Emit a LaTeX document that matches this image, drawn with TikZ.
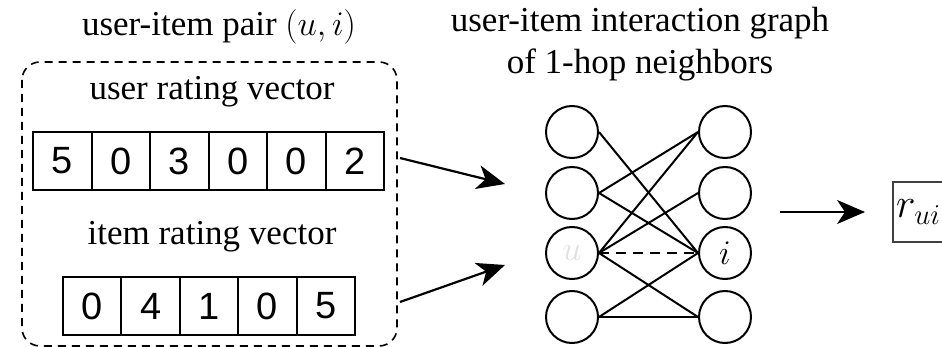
\documentclass[tikz,border=0pt]{standalone}
\usepackage{fontspec}
\setmainfont{Liberation Serif}
\newfontfamily\cellfont{Liberation Sans}
\usetikzlibrary{arrows.meta}

\tikzset{
  cell/.style={draw, line width=1pt, minimum width=29.25pt, minimum height=29pt,
    inner sep=0pt, font=\cellfont\fontsize{19}{22}\selectfont},
  vertex/.style={draw, circle, line width=1pt, minimum size=26pt, inner sep=0pt,
    font=\fontsize{19}{22}\selectfont},
  caption/.style={font=\fontsize{17.5}{21}\selectfont, align=center},
  edge/.style={line width=1pt},
  feed/.style={line width=1.1pt, -{Stealth[length=14pt,width=12pt,inset=4pt]}}
}

\begin{document}
\begin{tikzpicture}[x=0.5pt,y=-0.5pt]
\clip (0,0) rectangle (942,347);

% ====================
% Input: the rating vectors of a user-item pair
\node[caption] (pairtitle) at (219,27) {user-item pair $(u,i)$};
\draw[dashed, dash pattern=on 4pt off 3pt, line width=0.8pt, rounded corners=9pt]
  (22,62) rectangle (397,346);
\node[caption] (usertitle) at (212,92) {user rating vector};
\foreach \val [count=\k] in {5,0,3,0,0,2}
  \node[cell] (ur\k) at ({33+58.5*(\k-0.5)},161) {\val};
\node[caption] (itemtitle) at (212,237) {item rating vector};
\foreach \val [count=\k] in {0,4,1,0,5}
  \node[cell] (ir\k) at ({63+58.4*(\k-0.5)},306) {\val};

% ====================
% Bipartite graph of 1-hop neighbors
\node[caption] (graphtitle) at (640,44) {user-item interaction graph\\of 1-hop neighbors};
\foreach \y [count=\k] in {132,193,253,317} {
  \node[vertex] (a\k) at (572,\y) {};
  \node[vertex] (b\k) at (725,\y) {};
}
\node[text=black!12, font=\fontsize{19}{22}\selectfont] at (a3) {$u$};
\node[font=\fontsize{19}{22}\selectfont] at (b3) {$i$};
\foreach \s/\t in {1/3, 2/1, 2/3, 3/1, 3/2, 3/4, 4/3, 4/4}
  \draw[edge] (a\s.east) -- (b\t.west);
\draw[edge, dashed, dash pattern=on 5pt off 3.5pt] (a3.east) -- (b3.west);

% ====================
% Arrows into the graph and out to the prediction
\coordinate (userout) at (400,158);
\coordinate (itemout) at (400,302);
\coordinate (graphin1) at (505,184);
\coordinate (graphin2) at (505,265);
\coordinate (graphout) at (780,212);
\draw[feed] (userout) -- (graphin1);
\draw[feed] (itemout) -- (graphin2);
\node[draw=black!75, line width=1pt, minimum height=30pt, text width=40pt,
  anchor=west, inner sep=1.5pt, font=\fontsize{21}{24}\selectfont] (rui) at (892,212) {$r_{ui}$};
\draw[feed, shorten >=13.5pt] (graphout) -- (rui.west);
\end{tikzpicture}
\end{document}
